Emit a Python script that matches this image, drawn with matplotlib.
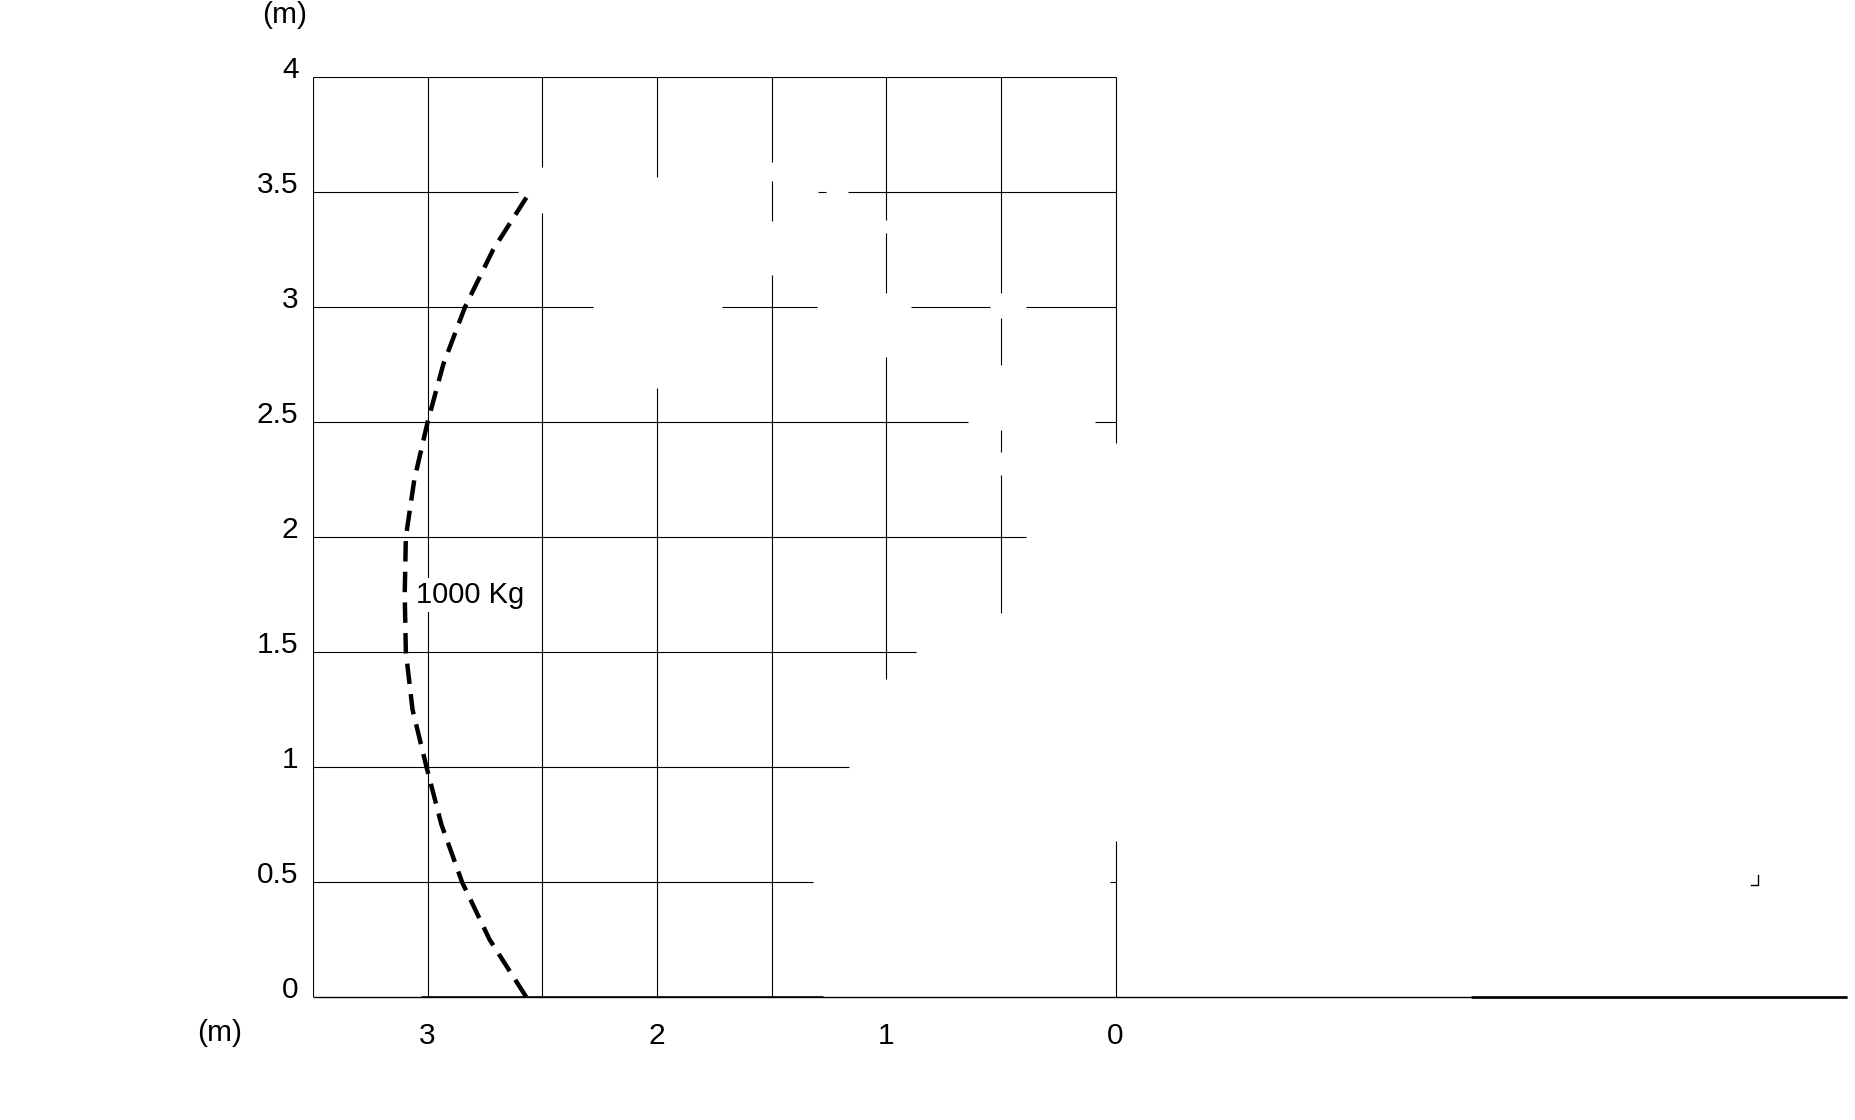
import matplotlib.pyplot as plt
from matplotlib.transforms import ScaledTranslation

plt.rcParams['font.family'] = ['Liberation Sans', 'DejaVu Sans']

# 1000 Kg load curve (distance in m vs lift height in m)
curve_height = [0, 0.25, 0.5, 0.75, 1.0, 1.25, 1.5, 1.75, 2.0, 2.25, 2.5, 2.75, 3.0, 3.25, 3.5]
curve_dist = [2.57, 2.73, 2.85, 2.94, 3.005, 3.066, 3.095, 3.10, 3.095, 3.058, 3.0, 2.932, 2.837, 2.714, 2.554]
curve_label = "1000 Kg"

x_ticks = [3, 2, 1, 0]
x_ticklabels = ["3", "2", "1", "0"]
y_ticks = [0, 0.5, 1, 1.5, 2, 2.5, 3, 3.5, 4]
y_ticklabels = ["0", "0.5", "1", "1.5", "2", "2.5", "3", "3.5", "4"]

grid_x = [3.5, 3, 2.5, 2, 1.5, 1, 0.5, 0]
grid_y = [0.5, 1, 1.5, 2, 2.5, 3, 3.5, 4]

# pieces of the grid hidden behind the (blanked) truck drawing
h_gaps = {
    3.5: [(1.299, 2.607), (1.166, 1.264)],
    3.0: [(1.718, 2.278), (0.893, 1.304), (0.391, 0.546)],
    2.5: [(0.09, 0.645)],
    2.0: [(0.0, 0.392)],
    1.5: [(0.0, 0.872)],
    1.0: [(0.0, 1.163)],
    0.5: [(0.024, 1.318)],
}
v_gaps = {
    2.5: [(3.407, 3.607)],
    2.0: [(2.647, 3.567)],
    1.5: [(3.139, 3.375), (3.549, 3.632)],
    1.0: [(0.0, 1.381), (2.784, 3.06), (3.32, 3.378)],
    0.5: [(0.0, 1.668), (2.27, 2.371), (2.465, 2.748), (2.951, 3.06)],
    0.0: [(0.678, 2.407)],
}


def visible(lo, hi, gaps):
    out = []
    start = lo
    for a, b in sorted(gaps):
        if a > start:
            out.append((start, a))
        start = max(start, b)
    if start < hi:
        out.append((start, hi))
    return out


fig = plt.figure(figsize=(18.56, 11.2), dpi=100)
ax = fig.add_axes([0.16864, 0.10982, 0.8265, 0.82143])
ax.set_xlim(3.5, -3.19)
ax.set_ylim(0, 4)
for s in ax.spines.values():
    s.set_visible(False)

grid_kw = dict(color="black", lw=0.8, zorder=1)
for y in grid_y:
    for a, b in visible(0.0, 3.5, h_gaps.get(y, [])):
        ax.hlines(y, a, b, **grid_kw)
for x in grid_x:
    for a, b in visible(0.0, 4.0, v_gaps.get(x, [])):
        ax.vlines(x, a, b, **grid_kw)

# ground line
ax.hlines(0, 3.5, -3.19, color="black", lw=1.0, zorder=2, clip_on=False)
ax.hlines(0, 3.03, 1.275, color="black", lw=1.9, zorder=2)
ax.hlines(0, -1.55, -3.19, color="black", lw=1.9, zorder=2, clip_on=False)
ax.plot([-2.77, -2.80, -2.80], [0.487, 0.487, 0.53], color="black", lw=1.0)

ax.plot(curve_dist, curve_height, color="black", lw=3.2, dashes=(4.6, 2.3),
        dash_capstyle="butt", zorder=4, clip_on=False)
ax.text(3.05, 1.713, curve_label, fontsize=21, ha="left", va="baseline", zorder=3,
        bbox=dict(boxstyle="square,pad=0.1", facecolor="white", edgecolor="none"))

ax.set_xticks(x_ticks)
ax.set_xticklabels(x_ticklabels)
ax.set_yticks(y_ticks)
ax.set_yticklabels(y_ticklabels)
ax.tick_params(axis="x", length=0, pad=18, labelsize=21.5)
ax.tick_params(axis="y", length=0, pad=10.5, labelsize=21.5)
for lab in ax.get_yticklabels():
    lab.set_transform(lab.get_transform() + ScaledTranslation(0, 10 / 100, fig.dpi_scale_trans))

fig.text(220 / 1856, 1 - 1033 / 1120, "(m)", fontsize=21.5, ha="center", va="center")
fig.text(285 / 1856, 1 - 15 / 1120, "(m)", fontsize=21.5, ha="center", va="center")

fig.savefig("out.png", dpi=100, facecolor="white")
